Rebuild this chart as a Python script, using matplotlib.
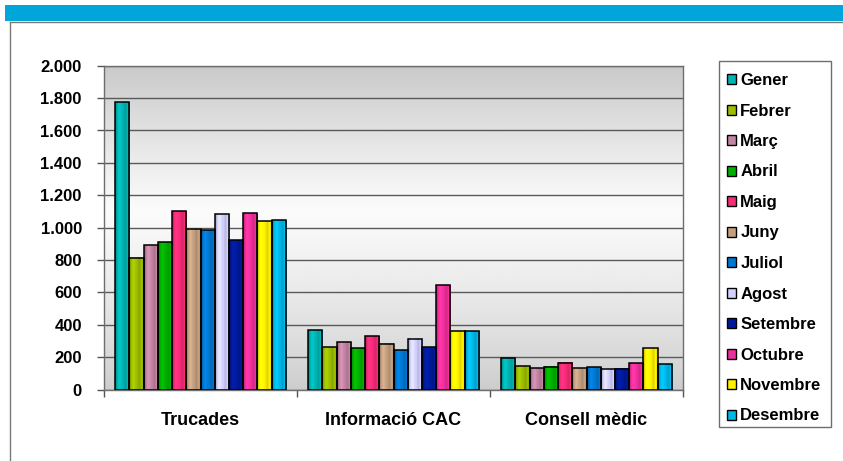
import numpy as np
import matplotlib
matplotlib.use("Agg")
import matplotlib.pyplot as plt
from matplotlib.patches import Rectangle
from matplotlib.lines import Line2D
from matplotlib.ticker import FuncFormatter, MultipleLocator
from matplotlib.colors import to_rgb

plt.rcParams['font.family'] = ['Liberation Sans', 'DejaVu Sans']
plt.rcParams['font.weight'] = 'bold'

categories = ["Trucades", "Informació CAC", "Consell mèdic"]
months = ["Gener", "Febrer", "Març", "Abril", "Maig", "Juny", "Juliol",
          "Agost", "Setembre", "Octubre", "Novembre", "Desembre"]
month_colors = ["#00B4B4", "#9CBE00", "#C484A4", "#00B000", "#F52C78",
                "#C4A080", "#0078D2", "#D2D2FF", "#001A9C", "#F0309C",
                "#FFF000", "#00B8E8"]

trucades = [1776, 815, 895, 909, 1103, 994, 983, 1084, 924, 1088, 1041, 1047]
informacio_cac = [370, 264, 294, 255, 333, 284, 243, 315, 262, 646, 362, 364]
consell_medic = [196, 146, 132, 142, 167, 134, 138, 130, 130, 165, 255, 157]

values = np.array([trucades, informacio_cac, consell_medic])  # rows: category, cols: month

fig = plt.figure(figsize=(8.43, 4.61), dpi=100)
W, H = 843, 461

# header band and framing lines of the panel
fig.add_artist(Rectangle((5 / W, 1 - 21 / H), 1 - 5 / W, 16 / H,
                         transform=fig.transFigure, facecolor="#00A6DA",
                         edgecolor="none"))
fig.add_artist(Line2D([9.5 / W, 1], [1 - 21.8 / H, 1 - 21.8 / H],
                      transform=fig.transFigure, color="#7a7a7a", lw=1.0))
fig.add_artist(Line2D([9.5 / W, 9.5 / W], [0, 1 - 21.8 / H],
                      transform=fig.transFigure, color="#7a7a7a", lw=1.0))

ax = fig.add_axes([104 / W, 1 - 389.7 / H, (683 - 104) / W, (389.7 - 65.7) / H])

ymax = 2000
ax.set_xlim(-0.5, len(categories) - 0.5)
ax.set_ylim(0, ymax)

# vertical gray gradient behind the plot
grad_y = np.linspace(0, 1, 256)
light = 0.985
shade = np.where(grad_y < 0.55,
                 0.80 + (light - 0.80) * (grad_y / 0.55) ** 0.8,
                 light - (light - 0.79) * ((grad_y - 0.55) / 0.45) ** 1.1)
bg = np.repeat(shade[:, None], 2, axis=1)
ax.imshow(bg, cmap="gray", vmin=0, vmax=1, extent=[-0.5, len(categories) - 0.5, 0, ymax],
          aspect="auto", origin="lower", zorder=0, interpolation="bicubic")

ax.yaxis.set_major_locator(MultipleLocator(200))
ax.grid(axis="y", color="#5a5a5a", lw=1.0, zorder=1)
ax.set_axisbelow(True)

n = len(months)
bw = 0.0738
x = np.arange(len(categories))

# horizontal shading profile giving the bars a rounded look
px = np.linspace(0, 1, 40)
profile = (1.0
           - 0.28 * np.exp(-((px - 0.0) / 0.10) ** 2)
           + 0.10 * np.exp(-((px - 0.30) / 0.12) ** 2)
           - 0.12 * np.exp(-((px - 0.70) / 0.10) ** 2)
           + 0.05 * np.exp(-((px - 0.88) / 0.06) ** 2)
           - 0.22 * np.exp(-((px - 1.0) / 0.08) ** 2))

for i, (m, c) in enumerate(zip(months, month_colors)):
    xs = x + (i - (n - 1) / 2) * bw
    bars = ax.bar(xs, values[:, i], width=bw, color=c, edgecolor="none",
                  zorder=2, label=m)
    base = np.array(to_rgb(c))
    img = np.clip(base[None, :] * profile[:, None]
                  + 0.08 * np.clip(profile - 1, 0, None)[:, None], 0, 1)
    img = img[None, :, :]
    for b in bars:
        ax.imshow(img, extent=[b.get_x(), b.get_x() + b.get_width(), 0, b.get_height()],
                  aspect="auto", zorder=2.5, interpolation="bilinear")
    ax.bar(xs, values[:, i], width=bw, fill=False, edgecolor="black",
           lw=1.1, zorder=3)

ax.set_xlim(-0.5, len(categories) - 0.5)
ax.set_ylim(0, ymax)

ax.yaxis.set_major_formatter(FuncFormatter(lambda v, p: f"{int(v):,}".replace(",", ".")))
ax.tick_params(axis="y", length=5, width=1, color="#555555", pad=11, labelsize=12)
for lbl in ax.get_yticklabels():
    lbl.set_fontweight("bold")

ax.set_xticks(x)
ax.set_xticklabels(categories, fontsize=13, fontweight="bold")
ax.set_xticks(np.arange(len(categories) + 1) - 0.5, minor=True)
ax.tick_params(axis="x", which="major", length=0, pad=16)
ax.tick_params(axis="x", which="minor", length=5, width=1, color="#555555")

for s in ax.spines.values():
    s.set_color("#6e6e6e")
    s.set_linewidth(1.0)

# legend entries, with a separately drawn box around them
handles = [Rectangle((0, 0), 1, 1, facecolor=c, edgecolor="black", lw=1.0)
           for c in month_colors]
leg = fig.legend(handles, months, loc="upper left",
                 bbox_to_anchor=(715 / W, 1 - 61 / H), bbox_transform=fig.transFigure,
                 fontsize=12, frameon=False,
                 handlelength=0.55, handleheight=0.55, handletextpad=0.25,
                 labelspacing=0.93, borderpad=0.72, borderaxespad=0)
for t in leg.get_texts():
    t.set_fontweight("bold")
fig.add_artist(Rectangle((718.5 / W, 1 - 427 / H), (831 - 718.5) / W, (427 - 61) / H,
                         transform=fig.transFigure, facecolor="none",
                         edgecolor="#6e6e6e", lw=1.0))

fig.savefig("out.png", dpi=100, facecolor="white")
